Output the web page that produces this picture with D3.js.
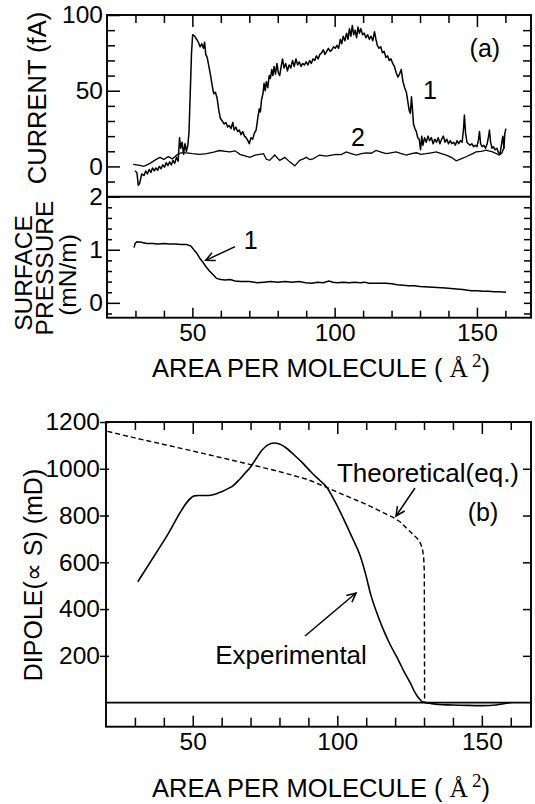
<!DOCTYPE html>
<html>
<head>
<meta charset="utf-8">
<script src="https://cdn.jsdelivr.net/npm/d3@7"></script>
<style>
  body { margin: 0; background: #fff; }
  svg { display: block; }
  text { font-family: "Liberation Sans", Arial, sans-serif; fill: #000; }
</style>
</head>
<body>
<div id="viz"></div>
<script>
var width = 535,
    height = 804;

// ---- data ----
// panel (a) upper: current (fA) vs area per molecule, curve 1 and 2
var current1 = [[29.8,-3],[30.5,-4],[31.0,-12.5],[31.5,-11],[32.2,-5],[33,-6],[33.6,-3],[34.2,-5],[34.8,-2],[35.4,-4],
  [36,-1],[36.6,-3],[37.2,-1],[37.8,-2.5],[38.4,0],[39,-1.5],[39.6,1],[40.2,-0.5],[40.8,2.5],[41.4,0.5],[42,3],[42.6,1],
  [43.2,4],[43.8,2],[44.4,6],[45,3.5],[45.5,19],[45.9,12],[46.4,16],[46.9,8],[47.4,15],[47.9,10],[48.4,14],[48.8,22],
  [49.2,45],[49.7,75],[50.1,87],[50.8,86],[51.5,84],[52.1,82],[52.7,79],[53.3,81],[53.9,78],[54.3,82],[54.7,74],[55.2,72],
  [55.8,66],[56.4,60],[57,53],[57.5,48],[58.1,49],[58.7,45],[59.3,37],[59.8,32],[60.5,30],[61.2,28],[61.8,29],[62.4,26],
  [63,27],[63.6,25],[64.2,29],[64.7,24],[65.3,26],[65.9,23],[66.5,24],[67.1,21],[67.7,23],[68.3,20],[68.9,19],[69.5,17],
  [70,15],[70.6,19],[71.2,18],[71.8,22],[72.4,24],[73,32],[73.5,38],[73.9,36],[74.3,44],[74.8,48],[75.2,55],[75.6,50],
  [76,56],[76.5,52],[77,60],[77.4,58],[77.9,64],[78.3,60],[78.7,66],[79.2,61],[79.7,68],[80.2,62],[80.7,60],[81.2,66],
  [81.7,71],[82.2,65],[82.8,68],[83.4,63],[84,67],[84.6,65],[85.2,70],[85.8,66],[86.4,71],[87,67],[87.6,69],[88.2,66],
  [88.8,68],[89.4,67],[90,69],[90.6,67],[91.2,70],[91.8,68],[92.4,71],[93,70],[93.6,73],[94.2,71],[94.8,74],[95.4,75],
  [96,77],[96.6,74],[97.2,76],[97.8,78],[98.4,76],[99,77],[99.6,79],[100.2,78],[100.8,80],[101.4,78],[102,84],[102.5,81],
  [103,86],[103.6,83],[104.2,88],[104.7,84],[105.2,91],[105.7,86],[106.2,93],[106.7,87],[107.2,90],[107.7,85],[108.2,92],
  [108.7,88],[109.2,91],[109.8,87],[110.4,88],[111,85],[111.6,87],[112.2,84],[112.8,86],[113.4,83],[114,89],[114.5,84],
  [115,80],[115.6,78],[116.2,79],[116.8,75],[117.4,76],[118,72],[118.6,73],[119.2,70],[119.8,71],[120.4,68],[121,66],
  [121.6,62],[122.2,59],[122.8,61],[123.4,64],[124,56],[124.6,52],[125.2,49],[125.7,43],[126.2,37],[126.6,35],[127,46],
  [127.3,39],[127.7,28],[128.2,25],[128.7,23],[129.2,19],[129.7,18],[130.2,11],[130.6,20],[131,14],[131.6,19],[132.2,16],
  [132.8,20],[133.4,17],[134,19],[134.6,15],[135.2,18],[135.8,16],[136.4,19],[137,15],[137.6,18],[138.2,20],[138.8,16],
  [139.4,18],[140,15],[140.6,17],[141.2,15],[141.8,16],[142.4,14],[143,17],[143.6,15],[144.2,17],[144.8,16],[145.3,25],
  [145.6,34],[146,22],[146.5,16],[147,15],[147.6,14],[148.2,15],[148.8,13],[149.4,14],[150,13],[150.5,17],[150.9,23],
  [151.3,15],[151.8,13],[152.4,14],[153,12],[153.6,15],[154.1,20],[154.4,24],[154.8,16],[155.3,12],[155.8,13],[156.4,11],
  [157,12],[157.6,9],[158.1,8],[158.6,14],[159.1,20],[159.5,12],[159.8,22],[160.2,25]];

var current2 = [[29.2,1.3],[31.6,0.7],[32.8,0],[33.5,0.5],[35.1,2],[37,4.3],[38.6,6],[40,4.5],[41.5,6.5],[43,5],[44.5,7.5],
  [46,9],[48,9],[50,8.5],[52.6,8],[55,8.5],[57.5,9.5],[59.6,10.5],[61.5,10],[63.2,9.6],[65,10.3],[66.7,8],[68.5,7],[70.2,6],
  [72,7.5],[73.7,8],[75,8.4],[76,4.7],[77.2,4],[78.9,7.5],[80.7,4],[82.5,6],[84.2,3],[86,0.4],[87.7,4],[89,5],[90,6],
  [91.2,4.5],[92.4,5],[94.7,7.5],[97.1,6.8],[99,7.5],[100.6,8],[102.3,7.8],[104.1,9.6],[105.8,8.5],[107.6,7.5],[109.4,8.5],
  [111.1,9],[112.8,8.7],[114.6,10.6],[116.3,9.5],[118.1,8.4],[119.8,9],[121.6,9.6],[123.4,8.5],[125.2,7.5],[127,8.5],
  [128.7,9],[130.4,8],[132.2,8.4],[134,9],[135.7,9.6],[137.5,8.5],[139.2,7.5],[141,6],[142.7,3.7],[144.4,5],[146.2,6.4],
  [148,8],[149.7,9.6],[151.5,10],[153.2,10.8],[155.5,9.6],[157.9,7.5],[158.8,9],[159.6,13]];

// panel (a) lower: surface pressure (mN/m)
var pressure1 = [[29.5,1.04],[29.9,1.12],[30.5,1.15],[32,1.14],[34,1.12],[36,1.12],[38,1.11],[40,1.12],[42,1.11],[44,1.11],
  [46,1.1],[48,1.1],[49.5,1.07],[50.5,1.0],[51.5,0.94],[52.5,0.85],[53.5,0.78],[54.8,0.68],[56,0.6],[57.5,0.52],[58.5,0.46],
  [60,0.44],[61.5,0.43],[63.3,0.44],[65,0.41],[67,0.4],[70,0.4],[72.9,0.38],[75,0.39],[77.5,0.4],[80,0.39],[82.5,0.4],
  [85,0.39],[87.5,0.4],[89.8,0.38],[92,0.37],[94,0.39],[96,0.38],[98,0.41],[99.4,0.39],[101,0.38],[103,0.39],[105,0.38],
  [107,0.39],[109,0.38],[110.5,0.39],[112,0.37],[114,0.37],[116,0.37],[118,0.37],[120,0.36],[122,0.34],[124,0.33],
  [126,0.32],[128,0.32],[130,0.31],[133,0.3],[136,0.29],[139,0.28],[142.8,0.26],[145,0.25],[148,0.23],[150,0.23],
  [152.4,0.22],[154,0.22],[156,0.21],[158,0.21],[160.2,0.2]];

// panel (b): dipole (mD)
var experimental = [[31,517],[40.5,701],[49.5,876],[50.5,884],[52,886],[55.7,886],[58,892],[60,902],[62,914],[64,928],
  [66,952],[68,980],[70,1008],[72,1045],[74,1080],[76,1102],[78,1110],[80,1106],[82,1092],[85,1060],[88,1025],[91,985],
  [94,950],[96.4,920],[99,865],[102,790],[105,710],[108,625],[110,540],[111.5,465],[113.5,390],[115.5,325],[118,255],
  [121,185],[123,135],[125.3,83],[126.8,45],[127.8,25],[128.7,12],[129.4,4],[130.5,0],[132,-3],[135,-8],[140,-10],
  [145,-12],[150,-13],[155,-10],[158,-4],[160,0]];

var theoretical = [[20.5,1160],[30,1132],[40,1104],[50,1076],[60,1047],[70,1018],[80,988],[90,953],[96.4,920],[100,900],
  [105,874],[110,848],[115,818],[120,788],[122,770],[124,745],[126,722],[127.6,703],[128.8,680],[129.5,655],[129.9,615],
  [130.1,560],[130.2,0]];

// ticks
var areaMinor = [30,40,60,70,80,90,110,120,130,140,160];
var areaMajor = [50,100,150];
var currentMinor = [-10,10,20,30,40,60,70,80,90];
var currentMajor = [0,50,100];
var pressureMinor = [-0.2,0.2,0.4,0.6,0.8,1.2,1.4,1.6,1.8];
var pressureMajor = [0,1,2];
var dipoleTicks = [200,400,600,800,1000,1200];

// ---- layout ----
var svg = d3.select("#viz").append("svg")
    .attr("width", width)
    .attr("height", height);

var xA = d3.scaleLinear().domain([20, 169]).range([107, 531]);
var yCur = d3.scaleLinear().domain([-20, 100]).range([196.7, 15]);
var yPres = d3.scaleLinear().domain([-0.28, 2]).range([317.7, 196.7]);
var xB = d3.scaleLinear().domain([20, 167]).range([106, 531]);
var yDip = d3.scaleLinear().domain([-103, 1200]).range([726.7, 422]);

var tickFont = 24.5;

function styleAxis(g) {
    g.select(".domain").remove();
    g.selectAll(".tick line").attr("stroke", "#000").attr("stroke-width", 1.5);
    g.selectAll(".tick text")
        .attr("font-size", tickFont)
        .attr("font-family", "Liberation Sans, Arial, sans-serif")
        .attr("fill", "#000");
}

function addAxis(axis, tx, ty) {
    svg.append("g")
        .attr("transform", "translate(" + tx + "," + ty + ")")
        .call(axis)
        .call(styleAxis);
}

var noLabel = function() { return ""; };

// ---- panel (a) current ----
addAxis(d3.axisLeft(yCur).tickValues(currentMinor).tickSize(-8).tickFormat(noLabel), xA.range()[0], 0);
addAxis(d3.axisLeft(yCur).tickValues(currentMajor).tickSize(-13).tickPadding(4).tickFormat(d3.format("d")), xA.range()[0], 0);
addAxis(d3.axisRight(yCur).tickValues(currentMinor.concat([0, 50])).tickSize(-8).tickFormat(noLabel), xA.range()[1], 0);
addAxis(d3.axisTop(xA).tickValues(areaMinor).tickSize(-8).tickFormat(noLabel), 0, yCur.range()[1]);
addAxis(d3.axisTop(xA).tickValues(areaMajor).tickSize(-12).tickFormat(noLabel), 0, yCur.range()[1]);

// ---- panel (a) pressure ----
addAxis(d3.axisLeft(yPres).tickValues(pressureMinor).tickSize(-5).tickFormat(noLabel), xA.range()[0], 0);
addAxis(d3.axisLeft(yPres).tickValues(pressureMajor).tickSize(-13).tickPadding(4).tickFormat(d3.format("d")), xA.range()[0], 0);
addAxis(d3.axisRight(yPres).tickValues(pressureMinor.concat([0, 1])).tickSize(-7).tickFormat(noLabel), xA.range()[1], 0);
addAxis(d3.axisBottom(xA).tickValues(areaMinor).tickSize(-7).tickFormat(noLabel), 0, yPres.range()[0]);
addAxis(d3.axisBottom(xA).tickValues(areaMajor).tickSize(-10).tickPadding(6).tickFormat(d3.format("d")), 0, yPres.range()[0]);

// frames of panel (a)
svg.append("rect")
    .attr("x", xA.range()[0]).attr("y", yCur.range()[1])
    .attr("width", xA.range()[1] - xA.range()[0])
    .attr("height", yPres.range()[0] - yCur.range()[1])
    .attr("fill", "none").attr("stroke", "#000").attr("stroke-width", 1.9);
svg.append("line")
    .attr("x1", xA.range()[0]).attr("x2", xA.range()[1])
    .attr("y1", yCur(-20)).attr("y2", yCur(-20))
    .attr("stroke", "#000").attr("stroke-width", 1.9);

var lineCur = d3.line().x(function(d) { return xA(d[0]); }).y(function(d) { return yCur(d[1]); });
var linePres = d3.line().x(function(d) { return xA(d[0]); }).y(function(d) { return yPres(d[1]); });

svg.append("path").datum(current2).attr("d", lineCur)
    .attr("fill", "none").attr("stroke", "#000").attr("stroke-width", 1.3);
svg.append("path").datum(current1).attr("d", lineCur)
    .attr("fill", "none").attr("stroke", "#000").attr("stroke-width", 1.5).attr("stroke-linejoin", "round");
svg.append("path").datum(pressure1).attr("d", linePres)
    .attr("fill", "none").attr("stroke", "#000").attr("stroke-width", 1.5);

// ---- panel (b) dipole ----
addAxis(d3.axisLeft(yDip).tickValues(dipoleTicks).tickSize(6).tickPadding(0).tickFormat(d3.format("d")), xB.range()[0], 0);
addAxis(d3.axisLeft(yDip).tickValues(dipoleTicks).tickSize(-3).tickFormat(noLabel), xB.range()[0], 0);
addAxis(d3.axisRight(yDip).tickValues([200, 400, 600, 800, 1000]).tickSize(-8).tickFormat(noLabel), xB.range()[1], 0);
addAxis(d3.axisTop(xB).tickValues(areaMinor).tickSize(-8).tickFormat(noLabel), 0, yDip.range()[1]);
addAxis(d3.axisTop(xB).tickValues(areaMajor).tickSize(-12).tickFormat(noLabel), 0, yDip.range()[1]);
addAxis(d3.axisBottom(xB).tickValues(areaMinor).tickSize(-9).tickFormat(noLabel), 0, yDip.range()[0]);
addAxis(d3.axisBottom(xB).tickValues(areaMajor).tickSize(-11).tickPadding(6).tickFormat(d3.format("d")), 0, yDip.range()[0]);

svg.append("rect")
    .attr("x", xB.range()[0]).attr("y", yDip.range()[1])
    .attr("width", xB.range()[1] - xB.range()[0])
    .attr("height", yDip.range()[0] - yDip.range()[1])
    .attr("fill", "none").attr("stroke", "#000").attr("stroke-width", 1.9);
svg.append("line")
    .attr("x1", xB.range()[0]).attr("x2", xB.range()[1])
    .attr("y1", yDip(0)).attr("y2", yDip(0))
    .attr("stroke", "#000").attr("stroke-width", 1.6);

var lineDip = d3.line().x(function(d) { return xB(d[0]); }).y(function(d) { return yDip(d[1]); });

svg.append("path").datum(theoretical).attr("d", lineDip)
    .attr("fill", "none").attr("stroke", "#000").attr("stroke-width", 1.4)
    .attr("stroke-dasharray", "5,3");
svg.append("path").datum(experimental).attr("d", lineDip.curve(d3.curveMonotoneX))
    .attr("fill", "none").attr("stroke", "#000").attr("stroke-width", 1.6);

// ---- annotations ----
function label(txt, x, y, size, anchor) {
    return svg.append("text")
        .attr("x", x).attr("y", y)
        .attr("font-size", size)
        .attr("text-anchor", anchor || "middle")
        .attr("dy", "0.35em")
        .text(txt);
}

function arrow(x1, y1, x2, y2) {
    var ang = Math.atan2(y2 - y1, x2 - x1),
        len = 10, spread = 0.45;
    svg.append("line")
        .attr("x1", x1).attr("y1", y1).attr("x2", x2).attr("y2", y2)
        .attr("stroke", "#000").attr("stroke-width", 1.5);
    svg.append("path")
        .attr("d", "M" + (x2 - len * Math.cos(ang - spread)) + "," + (y2 - len * Math.sin(ang - spread)) +
            "L" + x2 + "," + y2 +
            "L" + (x2 - len * Math.cos(ang + spread)) + "," + (y2 - len * Math.sin(ang + spread)))
        .attr("fill", "none").attr("stroke", "#000").attr("stroke-width", 1.5);
}

label("(a)", xA(152.8), yCur(78), 25);
label("1", xA(133.5), yCur(50.3), 25);
label("2", xA(108.2), yCur(19.2), 25);

label("1", xA(70.5), yPres(1.18), 25);
arrow(xA(65), yPres(1.06), xA(54.7), yPres(0.8));

label("Theoretical(eq.)", 428, 473, 26);
arrow(415, 488, 396, 516);
label("(b)", 483, 512, 25);
label("Experimental", 291, 655, 26);
arrow(305, 636, 356, 593);

// axis titles
function xTitle(y) {
    var t = svg.append("text")
        .attr("x", 321).attr("y", y)
        .attr("font-size", 25.5)
        .attr("text-anchor", "middle");
    t.append("tspan").text("AREA PER MOLECULE ( ");
    t.append("tspan").attr("font-family", "Liberation Serif, serif").text("\u00C5");
    t.append("tspan").attr("font-family", "Liberation Serif, serif")
        .attr("font-size", 19).attr("dy", -10).attr("dx", 4).text("2");
    t.append("tspan").attr("dy", 10).text(")");
}
xTitle(377);
xTitle(797);

function yTitle(txt, cx, cy, size) {
    svg.append("text")
        .attr("transform", "translate(" + (cx + size * 0.36) + "," + cy + ") rotate(-90)")
        .attr("font-size", size)
        .attr("text-anchor", "middle")
        .text(txt);
}
yTitle("CURRENT (fA)", 37, 98, 25.5);
yTitle("SURFACE", 23, 273, 24.5);
yTitle("PRESSURE", 44, 268, 24.5);
yTitle("(mN/m)", 67, 275, 24.5);
yTitle("DIPOLE(\u221D S) (mD)", 33, 575, 25);
</script>
</body>
</html>
